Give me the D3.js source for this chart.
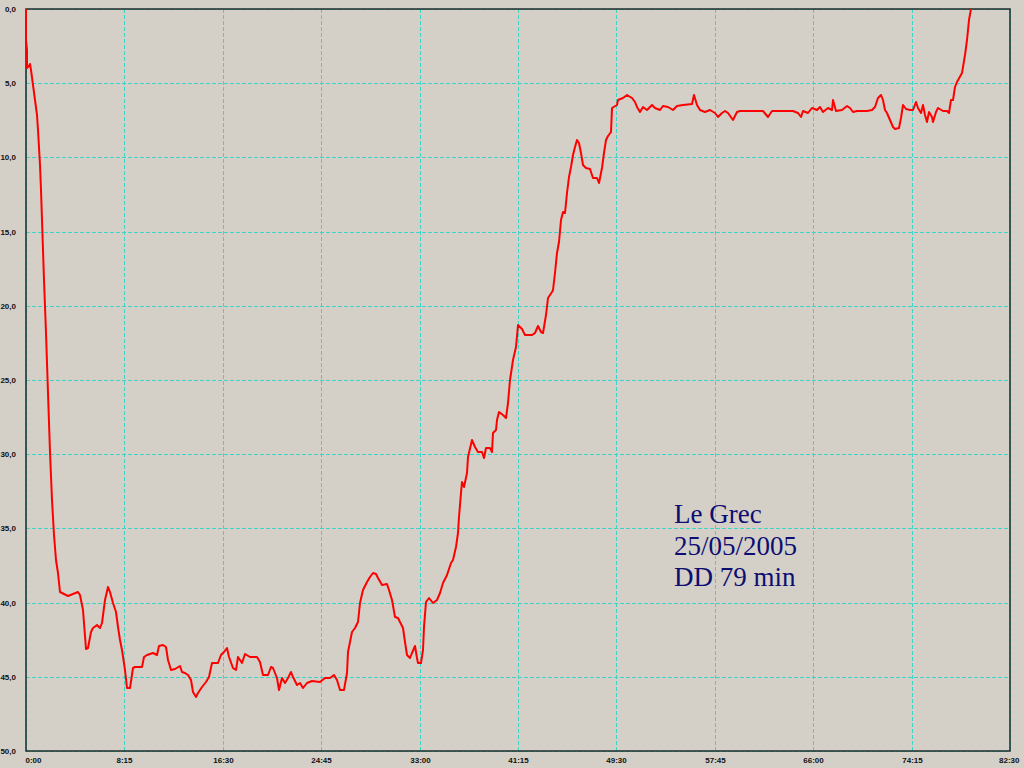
<!DOCTYPE html>
<html>
<head>
<meta charset="utf-8">
<script src="https://cdn.jsdelivr.net/npm/d3@7"></script>
<style>
  html, body { margin: 0; padding: 0; background: #d4d0c8; }
  svg { display: block; }
</style>
</head>
<body>
<div id="chart"></div>
<script>
const width = 1024;
const height = 768;

// dive profile: time in minutes, depth in metres
const timeMin = [
  0, 0.04, 0.08, 0.08, 0.21, 0.34, 0.42, 0.59, 0.75, 0.92, 1.01, 1.17, 1.26, 1.34, 1.43, 1.51, 1.68, 1.84,
  2.01, 2.18, 2.35, 2.49, 2.71, 2.85, 2.99, 3.55, 3.97, 4.38, 4.53, 4.75, 4.86, 5.03, 5.22, 5.45, 5.64,
  5.93, 6.20, 6.35, 6.62, 6.85, 7.04, 7.32, 7.52, 7.69, 7.88, 8.07, 8.30, 8.49, 8.72, 9.00, 9.14, 9.70,
  9.89, 10.12, 10.67, 10.96, 11.18, 11.46, 11.74, 11.93, 12.16, 12.49, 12.91, 13.05, 13.33, 13.61, 13.81,
  14.03, 14.25, 14.45, 14.73, 15.09, 15.37, 15.57, 15.85, 16.12, 16.35, 16.60, 16.83, 17.04, 17.38, 17.61,
  17.80, 18.09, 18.36, 18.78, 19.34, 19.62, 19.90, 20.31, 20.52, 20.73, 21.02, 21.21, 21.44, 21.71, 21.99,
  22.19, 22.41, 22.70, 22.97, 23.20, 23.53, 23.95, 24.65, 25.07, 25.49, 25.82, 26.05, 26.33, 26.69, 26.89,
  27.02, 27.31, 27.58, 27.86, 28.00, 28.28, 28.56, 28.84, 29.07, 29.34, 29.54, 29.82, 30.24, 30.46, 30.66,
  30.94, 31.21, 31.58, 31.78, 31.92, 32.19, 32.34, 32.61, 32.76, 32.89, 33.09, 33.26, 33.37, 33.54, 33.81,
  34.15, 34.43, 34.71, 34.99, 35.27, 35.61, 35.82, 36.05, 36.19, 36.33, 36.45, 36.53, 36.72, 36.95, 37.08,
  37.37, 37.64, 37.92, 38.21, 38.40, 38.57, 38.90, 39.04, 39.18, 39.40, 39.51, 39.68, 40.02, 40.24, 40.44,
  40.58, 40.85, 41.08, 41.27, 41.56, 41.84, 42.40, 42.67, 42.95, 43.15, 43.37, 43.60, 43.79, 44.07, 44.21,
  44.35, 44.49, 44.71, 44.85, 45.05, 45.19, 45.33, 45.53, 45.67, 45.84, 46.03, 46.22, 46.39, 46.53, 46.72,
  46.95, 47.29, 47.51, 47.85, 48.04, 48.27, 48.46, 48.63, 48.82, 49.02, 49.16, 49.52, 49.66, 50.08, 50.41,
  50.79, 51.06, 51.25, 51.48, 51.75, 52.04, 52.46, 52.73, 53.15, 53.43, 53.85, 54.27, 54.60, 55.11, 55.81,
  56.00, 56.23, 56.51, 56.93, 57.35, 57.77, 58.04, 58.33, 58.60, 58.88, 59.25, 59.58, 59.86, 61.26, 61.81,
  62.23, 62.52, 63.49, 64.33, 64.75, 64.95, 65.17, 65.59, 65.87, 66.29, 66.57, 66.84, 67.26, 67.55, 67.68,
  67.91, 68.39, 68.81, 69.09, 69.36, 69.65, 70.48, 70.90, 71.18, 71.46, 71.66, 71.88, 72.02, 72.21, 72.44,
  72.66, 72.86, 73.22, 73.36, 73.55, 73.78, 74.11, 74.39, 74.62, 74.81, 75.01, 75.18, 75.37, 75.57, 75.73,
  75.94, 76.07, 76.29, 76.49, 76.91, 77.24, 77.41, 77.53, 77.75, 77.89, 78.08, 78.45, 78.73, 78.92, 79.09,
  79.21
];
const depthM = [
  0, 2.09, 2.76, 3.98, 3.84, 3.71, 4.11, 5.12, 6.13, 7.14, 8.15, 10.51, 12.20, 14.22, 16.24, 18.26, 21.83, 25.88,
  29.85, 33.09, 35.45, 37.13, 38.01, 39.29, 39.36, 39.56, 39.42, 39.29, 39.49, 40.50, 41.38, 43.13, 43.06, 41.98, 41.71,
  41.51, 41.71, 41.38, 39.83, 38.95, 39.29, 40.03, 40.64, 41.65, 42.52, 43.20, 44.55, 45.76, 45.76, 44.41, 44.34, 44.34,
  43.67, 43.53, 43.40, 43.53, 42.93, 42.86, 43.00, 43.87, 44.55, 44.48, 44.27, 44.68, 44.75, 44.88, 45.22,
  46.03, 46.37, 46.10, 45.69, 45.35, 45.02, 44.07, 44.07, 44.07, 43.53, 43.33, 43.06, 43.67, 44.41, 44.55,
  43.67, 44.07, 43.47, 43.67, 43.67, 44.01, 44.88, 44.88, 44.34, 44.41, 45.08, 45.89, 45.08, 45.42, 45.08,
  44.68, 45.02, 45.56, 45.42, 45.76, 45.42, 45.29, 45.35, 45.08, 45.08, 44.88, 45.22, 45.89, 45.89, 44.75,
  43.33, 41.98, 41.71, 41.31, 40.03, 39.15, 38.61, 38.28, 38.01, 38.08, 38.35, 38.82, 38.75, 39.15, 39.83,
  40.97, 41.04, 41.71, 42.66, 43.53, 43.74, 43.40, 42.93, 43.74, 44.07, 44.07, 43.20, 41.65, 39.96, 39.69,
  40.03, 39.83, 39.36, 38.68, 38.14, 37.33, 37.13, 36.26, 35.31, 34.23, 32.62, 31.88, 32.21, 31.27, 30.19,
  29.05, 29.52, 29.85, 29.85, 30.26, 29.58, 29.58, 29.85, 28.57, 28.37, 27.70, 27.16, 27.36, 27.56, 26.55,
  25.00, 23.65, 22.78, 21.30, 21.56, 21.97, 21.97, 21.83, 21.36, 21.77, 21.83, 20.62, 19.48, 19.07, 18.94,
  17.79, 16.44, 15.70, 14.22, 13.68, 13.75, 12.40, 11.32, 10.65, 9.84, 9.30, 8.83, 9.03, 9.70, 10.51,
  10.72, 10.78, 11.39, 11.39, 11.73, 10.72, 9.70, 8.83, 8.56, 8.29, 6.67, 6.47, 6.13, 6.00, 5.80,
  6.00, 6.27, 6.60, 6.94, 6.60, 6.81, 6.47, 6.67, 6.81, 6.54, 6.60, 6.81, 6.54, 6.47, 6.40,
  5.80, 6.47, 6.81, 6.94, 6.81, 7.01, 7.28, 7.01, 6.87, 7.01, 7.48, 6.94, 6.87, 6.87, 6.87,
  7.28, 6.87, 6.87, 6.87, 7.01, 7.28, 6.87, 7.01, 6.67, 6.81, 6.60, 6.94, 6.67, 6.81, 6.13,
  6.87, 6.81, 6.54, 6.67, 6.94, 6.87, 6.87, 6.81, 6.60, 6.00, 5.80, 6.13, 6.81, 7.01, 7.48,
  7.95, 8.09, 8.02, 7.35, 6.47, 6.74, 6.81, 6.81, 6.27, 6.67, 7.01, 6.47, 7.14, 7.62, 6.94,
  7.28, 7.62, 6.94, 6.67, 6.87, 6.87, 7.01, 6.13, 6.13, 5.26, 4.92, 4.31, 3.10, 2.09, 0.74,
  0
];

// axis ticks
const xTickValues = [0, 8.25, 16.5, 24.75, 33, 41.25, 49.5, 57.75, 66, 74.25, 82.5];
const xTickLabels = ["0:00", "8:15", "16:30", "24:45", "33:00", "41:15", "49:30", "57:45", "66:00", "74:15", "82:30"];
const yTickValues = [0, 5, 10, 15, 20, 25, 30, 35, 40, 45, 50];
const yTickLabels = ["0,0", "5,0", "10,0", "15,0", "20,0", "25,0", "30,0", "35,0", "40,0", "45,0", "50,0"];

// caption lines
const noteLines = ["Le Grec", "25/05/2005", "DD 79 min"];

const plot = { left: 26, top: 9, right: 1010, bottom: 751 };

const svg = d3.select("#chart")
  .append("svg")
  .attr("width", width)
  .attr("height", height);

svg.append("rect")
  .attr("width", width)
  .attr("height", height)
  .attr("fill", "#d4d0c8");

// rounded ranges so grid lines land on whole pixels
const x = d3.scaleLinear().domain([0, 82.5]).rangeRound([plot.left, plot.right]);
const y = d3.scaleLinear().domain([0, 50]).rangeRound([plot.top, plot.bottom]);

// dashed grid, drawn with the axes' own tick lines
const gridX = svg.append("g")
  .attr("transform", `translate(0,${plot.bottom})`)
  .call(d3.axisBottom(x).tickValues(xTickValues).tickSize(-(plot.bottom - plot.top)).tickFormat(""));
const gridY = svg.append("g")
  .attr("transform", `translate(${plot.left},0)`)
  .call(d3.axisLeft(y).tickValues(yTickValues).tickSize(-(plot.right - plot.left)).tickFormat(""));
[gridX, gridY].forEach(g => {
  g.select(".domain").remove();
  g.selectAll(".tick line")
    .attr("stroke", "#3cd4c8")
    .attr("stroke-width", 1)
    .attr("stroke-dasharray", "4,2")
    .attr("shape-rendering", "crispEdges");
});

// frame
svg.append("rect")
  .attr("x", plot.left)
  .attr("y", plot.top)
  .attr("width", plot.right - plot.left)
  .attr("height", plot.bottom - plot.top)
  .attr("fill", "none")
  .attr("stroke", "#1e2a2a")
  .attr("stroke-width", 1.5);

// tick labels
const labelFont = "'Liberation Sans', Arial, sans-serif";
const xLab = svg.append("g")
  .attr("transform", `translate(0,${plot.bottom})`)
  .call(d3.axisBottom(x).tickValues(xTickValues).tickSize(0).tickPadding(6)
    .tickFormat((d, i) => xTickLabels[i]));
xLab.select(".domain").remove();
xLab.selectAll("text")
  .attr("font-family", labelFont)
  .attr("font-size", 8)
  .attr("font-weight", "bold")
  .attr("fill", "#111");
xLab.selectAll(".tick").filter((d, i) => i === 0).select("text").attr("text-anchor", "start").attr("x", -1);
xLab.selectAll(".tick").filter((d, i) => i === xTickValues.length - 1).select("text").attr("text-anchor", "end").attr("x", 9);

const yLab = svg.append("g")
  .attr("transform", `translate(${plot.left},0)`)
  .call(d3.axisLeft(y).tickValues(yTickValues).tickSize(0).tickPadding(10)
    .tickFormat((d, i) => yTickLabels[i]));
yLab.select(".domain").remove();
yLab.selectAll("text")
  .attr("font-family", labelFont)
  .attr("font-size", 8)
  .attr("font-weight", "bold")
  .attr("fill", "#111");

// profile line
svg.append("clipPath").attr("id", "clip")
  .append("rect")
  .attr("x", plot.left)
  .attr("y", plot.top)
  .attr("width", plot.right - plot.left)
  .attr("height", plot.bottom - plot.top);

const line = d3.line()
  .x((d, i) => x(timeMin[i]))
  .y(d => y(d));

svg.append("path")
  .datum(depthM)
  .attr("clip-path", "url(#clip)")
  .attr("fill", "none")
  .attr("stroke", "#ff0000")
  .attr("stroke-width", 2)
  .attr("stroke-linejoin", "round")
  .attr("d", line);

// caption
svg.append("g")
  .selectAll("text")
  .data(noteLines)
  .enter()
  .append("text")
  .attr("x", 674)
  .attr("y", (d, i) => 523 + i * 31.5)
  .attr("font-family", "'Liberation Serif', 'Times New Roman', serif")
  .attr("font-size", 27)
  .attr("fill", "#0d0d72")
  .text(d => d);
</script>
</body>
</html>
